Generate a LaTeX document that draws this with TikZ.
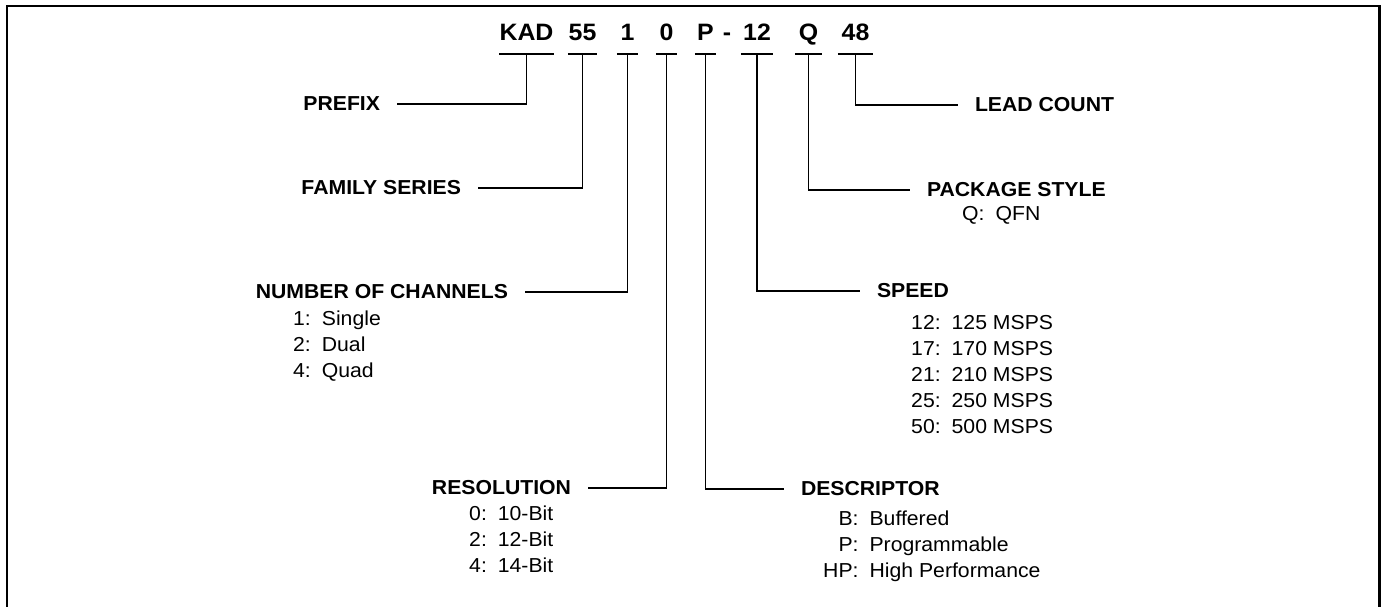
\documentclass[tikz,border=0pt]{standalone}
\usepackage{fontspec}
\setmainfont{Liberation Sans}[FakeStretch=1.05]
\usetikzlibrary{positioning}

\begin{document}
\begin{tikzpicture}[x=1pt, y=-1pt,
        part/.style={font=\fontsize{23.7}{26}\selectfont\bfseries, inner sep=0pt, text depth=13.5pt, anchor=base},
        field/.style={font=\fontsize{20.2}{26}\selectfont\bfseries, inner sep=0pt, outer xsep=17pt},
        items/.style={font=\fontsize{20.2}{26}\selectfont, inner sep=0pt, anchor=base west},
        bar/.style={line width=1.8pt},
        link/.style={line width=1.8pt}
    ]
        \useasboundingbox (0,0) rectangle (1388,607);
        \draw[line width=2.6pt] (7,6) rectangle (1379.5,615);

        % Part number
        \node[part, minimum width=53pt] (tkad) at (526.5,40.5) {KAD};
        \node[part, minimum width=29pt] (tfam) at (582.5,40.5) {55};
        \node[part, minimum width=21pt] (tchan) at (627.5,40.5) {1};
        \node[part, minimum width=21pt] (tres) at (666.5,40.5) {0};
        \node[part, minimum width=21pt] (tdesc) at (705.5,40.5) {P};
        \node[part] (tdash) at (727,40.5) {-};
        \node[part, minimum width=32pt] (tspeed) at (757,40.5) {12};
        \node[part, minimum width=27pt] (tpkg) at (808.5,40.5) {Q};
        \node[part, minimum width=35pt] (tlead) at (855.5,40.5) {48};
        \foreach \p in {tkad,tfam,tchan,tres,tdesc,tspeed,tpkg,tlead}
            \draw[bar] (\p.south west) -- (\p.south east);

        % Fields
        \node[field, anchor=east] (prefix) at (397,104) {PREFIX};
        \node[field, anchor=east] (family) at (478,188) {FAMILY SERIES};
        \node[field, anchor=east] (channels) at (525,292) {NUMBER OF CHANNELS};
        \node[field, anchor=east] (resolution) at (588,488) {RESOLUTION};
        \node[field, anchor=west] (descriptor) at (784,489) {DESCRIPTOR};
        \node[field, anchor=west] (speed) at (860,291) {SPEED};
        \node[field, anchor=west] (package) at (910,190) {PACKAGE STYLE};
        \node[field, anchor=west] (leadcount) at (958,105) {LEAD COUNT};

        % Options
        \node[items] (chanlist) at (293,325) {\begin{tabular}[t]{@{}r@{:\hspace{11pt}}l@{}}
            1 & Single\\ 2 & Dual\\ 4 & Quad\end{tabular}};
        \node[items] (reslist) at (469,520) {\begin{tabular}[t]{@{}r@{:\hspace{11pt}}l@{}}
            0 & 10-Bit\\ 2 & 12-Bit\\ 4 & 14-Bit\end{tabular}};
        \node[items] (desclist) at (823,525) {\begin{tabular}[t]{@{}r@{:\hspace{11pt}}l@{}}
            B & Buffered\\ P & Programmable\\ HP & High Performance\end{tabular}};
        \node[items] (speedlist) at (911,329) {\begin{tabular}[t]{@{}r@{:\hspace{11pt}}l@{}}
            12 & 125 MSPS\\ 17 & 170 MSPS\\ 21 & 210 MSPS\\ 25 & 250 MSPS\\ 50 & 500 MSPS\end{tabular}};
        \node[items] (pkglist) at (962,220) {\begin{tabular}[t]{@{}r@{:\hspace{11pt}}l@{}}
            Q & QFN\end{tabular}};

        % Leaders
        \draw[link] (tkad.south) |- (prefix.east);
        \draw[link] (tfam.south) |- (family.east);
        \draw[link] (tchan.south) |- (channels.east);
        \draw[link] (tres.south) |- (resolution.east);
        \draw[link] (tdesc.south) |- (descriptor.west);
        \draw[link] (tspeed.south) |- (speed.west);
        \draw[link] (tpkg.south) |- (package.west);
        \draw[link] (tlead.south) |- (leadcount.west);
    \end{tikzpicture}
\end{document}
